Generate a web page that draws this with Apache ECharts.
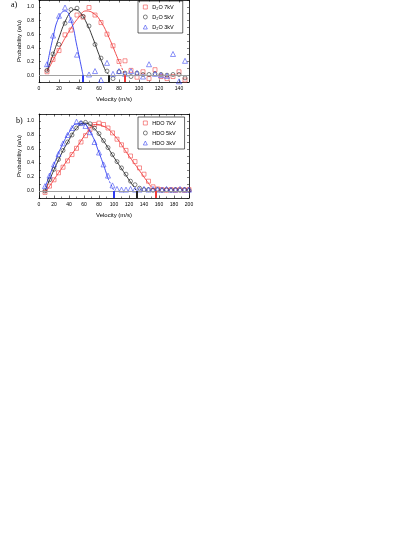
<!DOCTYPE html>
<html lang="en">
  <head>
    <meta charset="UTF-8" />
    <title>Velocity distributions</title>
    <script src="https://cdn.jsdelivr.net/npm/echarts@6/dist/echarts.min.js"></script>
  </head>
  <style>
    html,
    body {
      margin: 0;
      padding: 0;
      background: #fff;
    }
    #echart {
      width: 415px;
      height: 537px;
    }
  </style>
  <body>
    <div id="echart"></div>
  </body>
  <script>
    // panel a) D2O
    const velA = [8, 14, 20, 26, 32, 38, 44, 50, 56, 62, 68, 74, 80, 86, 92, 98, 104, 110, 116, 122, 128, 134, 140, 146];
    const d2o7 = [0.05, 0.23, 0.36, 0.59, 0.66, 0.88, 0.85, 0.99, 0.88, 0.77, 0.6, 0.43, 0.2, 0.21, 0.07, -0.03, 0.05, -0.05, 0.08, -0.02, -0.05, -0.02, 0.05, -0.07];
    const d2o5 = [0.07, 0.31, 0.45, 0.76, 0.96, 0.98, 0.86, 0.72, 0.45, 0.25, 0.06, -0.05, 0.05, 0.03, -0.02, 0.03, 0.01, 0.01, 0.02, 0.01, 0.0, 0.01, 0.01, -0.04];
    const d2o3 = [0.16, 0.58, 0.87, 0.99, 0.81, 0.3, "-", 0.01, 0.06, -0.07, 0.18, 0.02, 0.06, 0.02, 0.06, 0.03, -0.02, 0.16, 0.02, 0.0, -0.01, 0.31, -0.09, 0.21];

    // fitted curves a) (read off the picture)
    const fitA7 = [[8, 0.05], [20, 0.38], [30, 0.64], [40, 0.85], [47, 0.94], [55, 0.9], [62, 0.78], [70, 0.55], [78, 0.27], [80, 0.2]];
    const fitA5 = [[8, 0.06], [14, 0.3], [20, 0.55], [26, 0.78], [32, 0.93], [36, 0.96], [42, 0.9], [48, 0.75], [54, 0.54], [60, 0.3], [66, 0.08]];
    const fitA3 = [[8, 0.12], [14, 0.55], [20, 0.85], [26, 0.94], [32, 0.8], [38, 0.42], [44, 0.0]];
    const dashA7 = [[80, 0.2], [86, 0.0]];
    const dashA5 = [[66, 0.08], [70, 0.0]];
    const cutA = [44, 70, 86];

    // panel b) HDO
    const velB = [8, 14, 20, 26, 32, 38, 44, 50, 56, 62, 68, 74, 80, 86, 92, 98, 104, 110, 116, 122, 128, 134, 140, 146, 152, 158, 164, 170, 176, 182, 188, 194, 200];
    const hdo7 = [-0.02, 0.07, 0.16, 0.26, 0.34, 0.43, 0.52, 0.61, 0.7, 0.79, 0.88, 0.95, 0.97, 0.95, 0.9, 0.83, 0.74, 0.66, 0.58, 0.5, 0.42, 0.33, 0.24, 0.14, 0.06, 0.03, 0.02, 0.01, 0.02, 0.01, 0.02, 0.01, 0.02];
    const hdo5 = [0.0, 0.16, 0.31, 0.45, 0.58, 0.7, 0.8, 0.9, 0.97, 0.98, 0.96, 0.9, 0.82, 0.72, 0.62, 0.52, 0.42, 0.33, 0.24, 0.14, 0.09, 0.04, 0.02, 0.02, 0.01, 0.02, 0.01, 0.02, 0.01, 0.02, 0.01, 0.02, 0.01];
    const hdo3 = [0.07, 0.22, 0.38, 0.53, 0.68, 0.8, 0.9, 0.99, 0.97, 0.93, 0.84, 0.7, 0.55, 0.38, 0.22, 0.08, 0.03, 0.02, 0.02, 0.03, 0.02, 0.02, 0.03, 0.02, 0.03, 0.02, 0.02, 0.03, 0.02, 0.02, 0.03, 0.02, 0.02];

    const fitB7 = [[8, -0.03], [30, 0.32], [50, 0.62], [65, 0.85], [75, 0.95], [85, 0.93], [100, 0.8], [120, 0.5], [140, 0.2], [148, 0.08]];
    const fitB5 = [[8, 0.0], [25, 0.42], [40, 0.73], [52, 0.92], [60, 0.97], [70, 0.93], [85, 0.73], [100, 0.48], [115, 0.24], [125, 0.08]];
    const fitB3 = [[8, 0.05], [20, 0.38], [32, 0.68], [44, 0.9], [50, 0.96], [58, 0.96], [68, 0.85], [80, 0.55], [92, 0.18]];
    const dashB7 = [[148, 0.08], [155, 0.0]];
    const dashB5 = [[125, 0.08], [130, 0.0]];
    const dashB3 = [[92, 0.18], [100, 0.0]];
    const cutB = [100, 130, 155];

    const RED = "#f03c3c";
    const BLACK = "#222";
    const BLUE = "#2f3cf0";
    const font = "Liberation Sans";

    const chart = echarts.init(document.getElementById("echart"));

    function xAx(gi, max, pos) {
      const main = pos === "bottom";
      return {
        gridIndex: gi,
        type: "value",
        position: pos,
        min: 0,
        max: max,
        interval: 20,
        name: main ? "Velocity (m/s)" : "",
        nameLocation: "middle",
        nameGap: 14,
        nameTextStyle: { fontSize: 6, fontFamily: font, color: "#000" },
        axisLine: { onZero: false, lineStyle: { color: "#000", width: 0.8 } },
        axisTick: { inside: true, length: 2.5, lineStyle: { color: "#000", width: 0.6 } },
        minorTick: { show: true, splitNumber: 2, length: 1.5, lineStyle: { color: "#000", width: 0.5 } },
        axisLabel: {
          show: main,
          fontSize: 5,
          margin: 4,
          fontFamily: font,
          color: "#000",
          formatter: (v) => (v % 20 === 0 ? String(v) : ""),
        },
        splitLine: { show: false },
      };
    }

    function yAx(gi, pos) {
      const main = pos === "left";
      return {
        gridIndex: gi,
        type: "value",
        position: pos,
        min: -0.1,
        max: 1.1,
        interval: 0.1,
        name: main ? "Probability (a/u)" : "",
        nameLocation: "middle",
        nameGap: 17,
        nameTextStyle: { fontSize: 6, fontFamily: font, color: "#000" },
        axisLine: { onZero: false, lineStyle: { color: "#000", width: 0.8 } },
        axisTick: { inside: true, length: 2, lineStyle: { color: "#000", width: 0.5 } },
        axisLabel: {
          show: main,
          fontSize: 5,
          margin: 5,
          fontFamily: font,
          color: "#000",
          formatter: (v) => {
            const k = Math.round(v * 10);
            return k >= 0 && k <= 10 && k % 2 === 0 ? (k / 10).toFixed(1) : "";
          },
        },
        splitLine: { show: false },
      };
    }

    function pts(xs, ys) {
      return xs.map((x, i) => [x, ys[i]]);
    }

    function hollow(color) {
      return { color: "rgba(0,0,0,0)", borderColor: color, borderWidth: 0.7 };
    }

    function scatter(name, gi, data, symbol, color, extra) {
      return Object.assign(
        {
          name: name,
          type: "scatter",
          xAxisIndex: gi * 2,
          yAxisIndex: gi * 2,
          data: data,
          symbol: symbol,
          symbolSize: symbol === "triangle" ? 5 : 4,
          itemStyle: hollow(color),
          z: 3,
          silent: true,
        },
        extra || {}
      );
    }

    function curve(gi, data, color, dashed) {
      return {
        type: "line",
        xAxisIndex: gi * 2,
        yAxisIndex: gi * 2,
        data: data,
        smooth: true,
        showSymbol: false,
        lineStyle: { color: color, width: 0.9, type: dashed ? [2, 1.5] : "solid" },
        z: 2,
        silent: true,
      };
    }

    function arrows(xs, colors) {
      return {
        silent: true,
        symbol: ["none", "arrow"],
        symbolSize: [0, 5],
        label: { show: false },
        data: xs.map((x, i) => [
          { coord: [x, 0], lineStyle: { color: colors[i], width: 2, type: "solid" }, itemStyle: { color: colors[i] } },
          { coord: [x, -0.1] },
        ]),
      };
    }

    function zeroLine() {
      return {
        silent: true,
        symbol: "none",
        label: { show: false },
        lineStyle: { color: "#999", width: 0.9, type: "solid" },
        data: [{ yAxis: 0 }],
      };
    }

    const cols = [BLUE, BLACK, RED];

    function legendItems(names) {
      const syms = ["rect", "circle", "triangle"];
      const c = [RED, BLACK, BLUE];
      return names.map((n, i) => ({ name: n, icon: syms[i], itemStyle: hollow(c[i]) }));
    }

    const legendBase = {
      orient: "vertical",
      itemWidth: 4,
      itemHeight: 4,
      itemGap: 4,
      padding: [3, 9, 3, 5],
      borderColor: "#000",
      borderWidth: 0.6,
      textStyle: { fontSize: 5.5, fontFamily: font, color: "#000" },
    };

    const option = {
      animation: false,
      backgroundColor: "#fff",
      grid: [
        { left: 39, top: -2, width: 150, height: 84 },
        { left: 39, top: 114, width: 150, height: 84 },
      ],
      xAxis: [xAx(0, 150, "bottom"), xAx(0, 150, "top"), xAx(1, 200, "bottom"), xAx(1, 200, "top")],
      yAxis: [yAx(0, "left"), yAx(0, "right"), yAx(1, "left"), yAx(1, "right")],
      legend: [
        Object.assign({}, legendBase, { left: 138, top: 1, data: legendItems(["D₂O 7kV", "D₂O 5kV", "D₂O 3kV"]) }),
        Object.assign({}, legendBase, { left: 138, top: 117, data: legendItems(["HDO 7kV", "HDO 5kV", "HDO 3kV"]) }),
      ],
      graphic: [
        { type: "text", left: 11, top: 1, style: { text: "a)", fontSize: 8, fontFamily: "Liberation Serif", fill: "#000" } },
        { type: "text", left: 16, top: 117, style: { text: "b)", fontSize: 8, fontFamily: "Liberation Serif", fill: "#000" } },
      ],
      series: [
        curve(0, fitA7, RED),
        curve(0, dashA7, RED, true),
        curve(0, fitA5, BLACK),
        curve(0, dashA5, BLACK, true),
        curve(0, fitA3, BLUE),
        scatter("D₂O 7kV", 0, pts(velA, d2o7), "rect", RED, { markLine: zeroLine() }),
        scatter("D₂O 5kV", 0, pts(velA, d2o5), "circle", BLACK),
        scatter("D₂O 3kV", 0, pts(velA, d2o3), "triangle", BLUE, { markLine: arrows(cutA, cols) }),

        curve(1, fitB7, RED),
        curve(1, dashB7, RED, true),
        curve(1, fitB5, BLACK),
        curve(1, dashB5, BLACK, true),
        curve(1, fitB3, BLUE),
        curve(1, dashB3, BLUE, true),
        scatter("HDO 7kV", 1, pts(velB, hdo7), "rect", RED, { markLine: zeroLine() }),
        scatter("HDO 5kV", 1, pts(velB, hdo5), "circle", BLACK),
        scatter("HDO 3kV", 1, pts(velB, hdo3), "triangle", BLUE, { markLine: arrows(cutB, cols) }),
      ],
    };

    chart.setOption(option);
  </script>
</html>
